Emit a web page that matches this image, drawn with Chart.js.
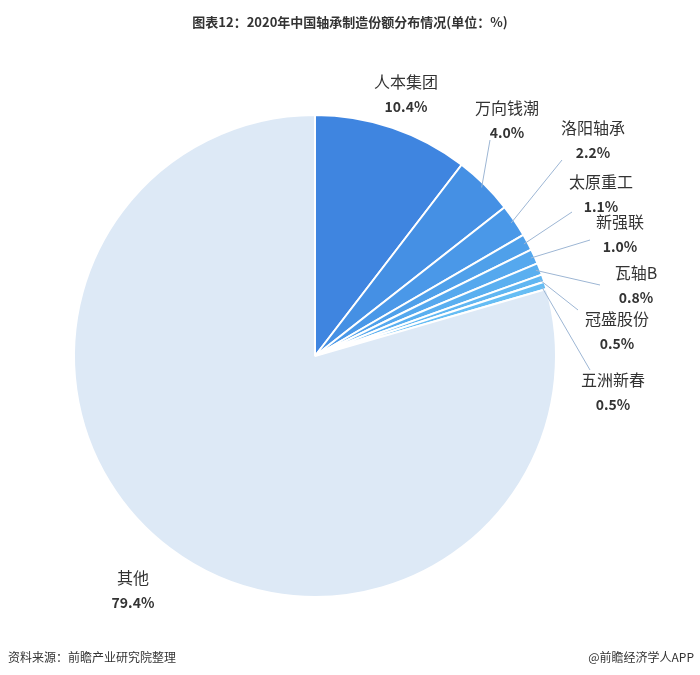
<!DOCTYPE html>
<html>
<head>
<meta charset="utf-8">
<script src="https://cdn.jsdelivr.net/npm/chart.js@4/dist/chart.umd.min.js"></script>
<style>
  html, body { margin: 0; padding: 0; background: #fff; }
  #wrap { width: 700px; height: 675px; position: relative; }
</style>
</head>
<body>
<div id="wrap"><canvas id="pieChart"></canvas></div>
<script>
'use strict';

/* ── Data ── */
const companies = ['人本集团', '万向钱潮', '洛阳轴承', '太原重工', '新强联', '瓦轴B', '冠盛股份', '五洲新春', '其他'];
const shares    = [10.4, 4.0, 2.2, 1.1, 1.0, 0.8, 0.5, 0.5, 79.4];
const colors    = ['#3F85E0', '#4590E4', '#4A98E8', '#4FA0EA', '#55A8EE', '#5AAFF0', '#60B6F2', '#66BDF4', '#DDE9F6'];

/* label anchor (centre of name line) and leader-line end, per slice */
const labelPos = [
  [406, 82, null], [507, 108, [490, 140]], [593, 128, [562, 160]], [601, 182, [572, 212]],
  [620, 222, [590, 240]], [636, 273, [600, 285]], [617, 319, [578, 310]], [613, 380, [590, 370]],
  [133, 578, null]
];

/* ── Labels, title, footer ── */
const decor = {
  id: 'decor',
  afterDraw(chart) {
    const c = chart.ctx;
    const arcs = chart.getDatasetMeta(0).data;
    c.save();
    c.fillStyle = '#333';
    c.textAlign = 'center';
    c.textBaseline = 'middle';
    c.font = 'bold 13px "Noto Sans CJK SC", sans-serif';
    c.fillText('图表12：2020年中国轴承制造份额分布情况(单位：%)', 350, 22);

    arcs.forEach((a, i) => {
      const [lx, ly, end] = labelPos[i];
      if (end) {
        const p = a.getProps(['x', 'y', 'startAngle', 'endAngle', 'outerRadius'], true);
        const mid = (p.startAngle + p.endAngle) / 2;
        const r = p.outerRadius - 4;
        c.strokeStyle = '#9DB6D4';
        c.lineWidth = 1;
        c.beginPath();
        c.moveTo(p.x + Math.cos(mid) * r, p.y + Math.sin(mid) * r);
        c.lineTo(end[0], end[1]);
        c.stroke();
      }
      c.fillStyle = '#333';
      c.font = '16px "Noto Sans CJK SC", sans-serif';
      c.fillText(companies[i], lx, ly);
      c.font = 'bold 14px "Noto Sans CJK SC", sans-serif';
      c.fillText(shares[i].toFixed(1) + '%', lx, ly + 25);
    });

    c.font = '12px "Noto Sans CJK SC", sans-serif';
    c.fillStyle = '#333';
    c.textAlign = 'left';
    c.fillText('资料来源：前瞻产业研究院整理', 8, 657);
    c.textAlign = 'right';
    c.fillText('@前瞻经济学人APP', 694, 657);
    c.restore();
  }
};

new Chart(document.getElementById('pieChart'), {
  type: 'pie',
  data: {
    labels: companies,
    datasets: [{
      data: shares,
      backgroundColor: colors,
      borderColor: '#fff',
      borderWidth: 2,
    }]
  },
  options: {
    responsive: true,
    maintainAspectRatio: false,
    animation: false,
    layout: { padding: { left: 73, right: 143, top: 114, bottom: 77 } },
    plugins: { legend: { display: false }, tooltip: { enabled: false } }
  },
  plugins: [decor]
});
</script>
</body>
</html>
